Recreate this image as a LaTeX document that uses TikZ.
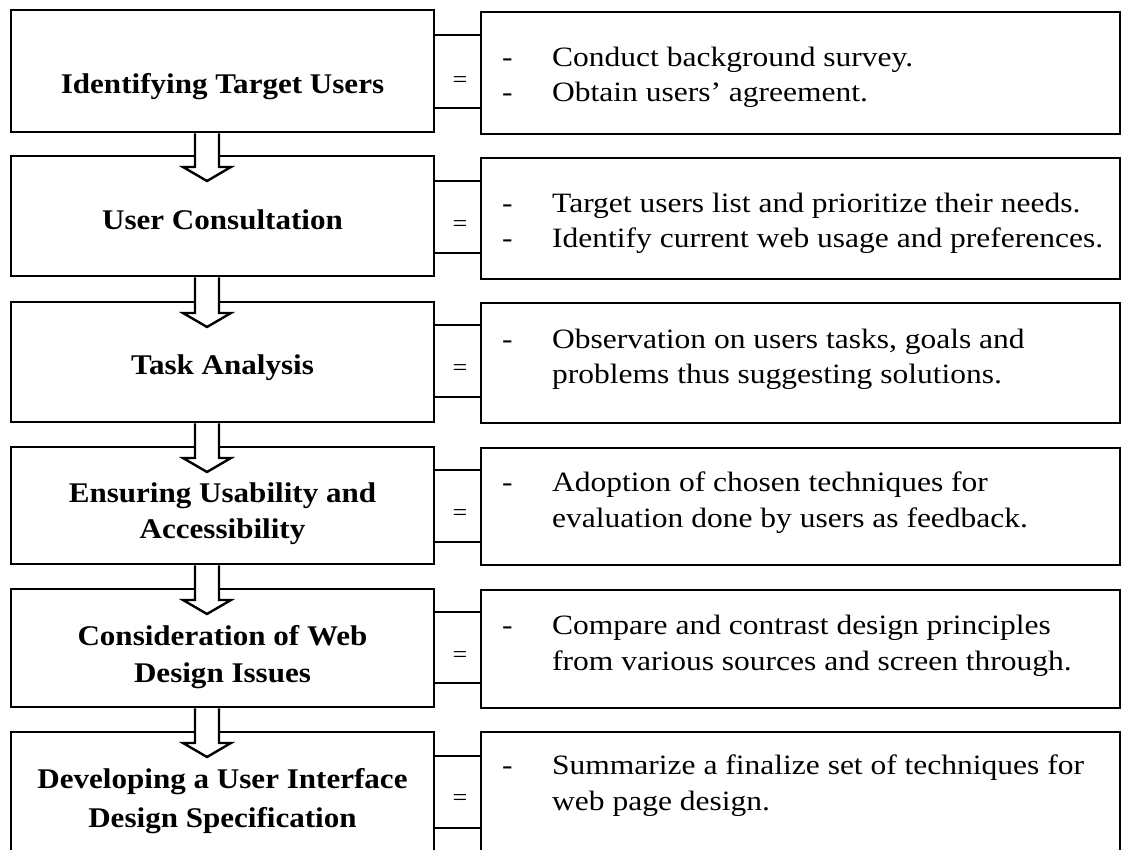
\documentclass[tikz,border=0pt]{standalone}
\usepackage{fontspec}
\setmainfont{Liberation Serif}[FakeStretch=1.09]
\newfontfamily\rfont{Liberation Serif}[FakeStretch=1.125]
\begin{document}
\begin{tikzpicture}[x=1pt,y=-1pt,
  box/.style={draw=black, line width=2.7pt, fill=white, inner sep=0pt, outer sep=0pt, rectangle},
  lbox/.style={box, minimum width=423pt},
  rbox/.style={box, minimum width=639pt},
  ltext/.style={font=\fontsize{28.5}{34}\selectfont\bfseries, inner sep=0pt, anchor=base},
  rtext/.style={font=\rfont\fontsize{28}{34}\selectfont, inner sep=0pt, anchor=base west},
  eqs/.style={font=\fontsize{24}{28}\selectfont, inner sep=0pt},
  link/.style={line width=2.7pt},
  flow/.style={draw=black, fill=white, line width=2.4pt, line join=miter}
]
\newcommand{\flowarrow}[2]{%
  \draw[flow] ([xshift=-27.5pt,yshift=-1.35pt]#1.south)
    -- ([xshift=-27.5pt,yshift=-11pt]#2.north)
    -- ([xshift=-39.5pt,yshift=-11pt]#2.north)
    -- ([xshift=-15.5pt,yshift=-25pt]#2.north)
    -- ([xshift=8.5pt,yshift=-11pt]#2.north)
    -- ([xshift=-3.5pt,yshift=-11pt]#2.north)
    -- ([xshift=-3.5pt,yshift=-1.35pt]#1.south);}
\newcommand{\dashline}[1]{\makebox[50pt][l]{-}#1}
\newcommand{\plainline}[1]{\makebox[50pt][l]{}#1}

\useasboundingbox[fill=white] (0,0) rectangle (1125,850);
\clip (0,0) rectangle (1125,850);

% left boxes
\node[lbox, minimum height=122pt] (L1) at (222.5,71) {};
\node[lbox, minimum height=120pt] (L2) at (222.5,216) {};
\node[lbox, minimum height=120pt] (L3) at (222.5,362) {};
\node[lbox, minimum height=117pt] (L4) at (222.5,505.5) {};
\node[lbox, minimum height=118pt] (L5) at (222.5,648) {};
\node[lbox, minimum height=124pt] (L6) at (222.5,794) {};

% right boxes
\node[rbox, minimum height=122pt] (R1) at (800.5,73) {};
\node[rbox, minimum height=121pt] (R2) at (800.5,218.5) {};
\node[rbox, minimum height=120pt] (R3) at (800.5,363) {};
\node[rbox, minimum height=117pt] (R4) at (800.5,506.5) {};
\node[rbox, minimum height=118pt] (R5) at (800.5,649) {};
\node[rbox, minimum height=124pt] (R6) at (800.5,794) {};

% connectors between left and right boxes
\draw[link] (L1.east |- 0,35)  -- (R1.west |- 0,35);
\draw[link] (L1.east |- 0,108) -- (R1.west |- 0,108);
\draw[link] (L2.east |- 0,181) -- (R2.west |- 0,181);
\draw[link] (L2.east |- 0,253) -- (R2.west |- 0,253);
\draw[link] (L3.east |- 0,325) -- (R3.west |- 0,325);
\draw[link] (L3.east |- 0,397) -- (R3.west |- 0,397);
\draw[link] (L4.east |- 0,470) -- (R4.west |- 0,470);
\draw[link] (L4.east |- 0,542) -- (R4.west |- 0,542);
\draw[link] (L5.east |- 0,612) -- (R5.west |- 0,612);
\draw[link] (L5.east |- 0,683) -- (R5.west |- 0,683);
\draw[link] (L6.east |- 0,756) -- (R6.west |- 0,756);
\draw[link] (L6.east |- 0,828) -- (R6.west |- 0,828);

\node[eqs] (E1) at (460,82) {=};
\node[eqs] (E2) at (460,226) {=};
\node[eqs] (E3) at (460,370) {=};
\node[eqs] (E4) at (460,515) {=};
\node[eqs] (E5) at (460,657) {=};
\node[eqs] (E6) at (460,800) {=};

% block arrows
\flowarrow{L1}{L2}
\flowarrow{L2}{L3}
\flowarrow{L3}{L4}
\flowarrow{L4}{L5}
\flowarrow{L5}{L6}

% left texts
\node[ltext] (T1) at (222.5,94) {Identifying Target Users};
\node[ltext] (T2) at (222.5,230) {User Consultation};
\node[ltext] (T3) at (222.5,375) {Task Analysis};
\node[ltext] (T4a) at (222.5,502) {Ensuring Usability and};
\node[ltext] (T4b) at (222.5,538) {Accessibility};
\node[ltext] (T5a) at (222.5,645) {Consideration of Web};
\node[ltext] (T5b) at (222.5,682) {Design Issues};
\node[ltext] (T6a) at (222.5,788) {Developing a User Interface};
\node[ltext] (T6b) at (222.5,827) {Design Specification};

% right texts
\node[rtext] (S1a) at (502,67)  {\dashline{Conduct background survey.}};
\node[rtext] (S1b) at (502,102) {\dashline{Obtain users’ agreement.}};
\node[rtext] (S2a) at (502,213) {\dashline{Target users list and prioritize their needs.}};
\node[rtext] (S2b) at (502,248) {\dashline{Identify current web usage and preferences.}};
\node[rtext] (S3a) at (502,349) {\dashline{Observation on users tasks, goals and}};
\node[rtext] (S3b) at (502,384) {\plainline{problems thus suggesting solutions.}};
\node[rtext] (S4a) at (502,491) {\dashline{Adoption of chosen techniques for}};
\node[rtext] (S4b) at (502,527) {\plainline{evaluation done by users as feedback.}};
\node[rtext] (S5a) at (502,634) {\dashline{Compare and contrast design principles}};
\node[rtext] (S5b) at (502,670) {\plainline{from various sources and screen through.}};
\node[rtext] (S6a) at (502,774) {\dashline{Summarize a finalize set of techniques for}};
\node[rtext] (S6b) at (502,810) {\plainline{web page design.}};
\end{tikzpicture}
\end{document}
